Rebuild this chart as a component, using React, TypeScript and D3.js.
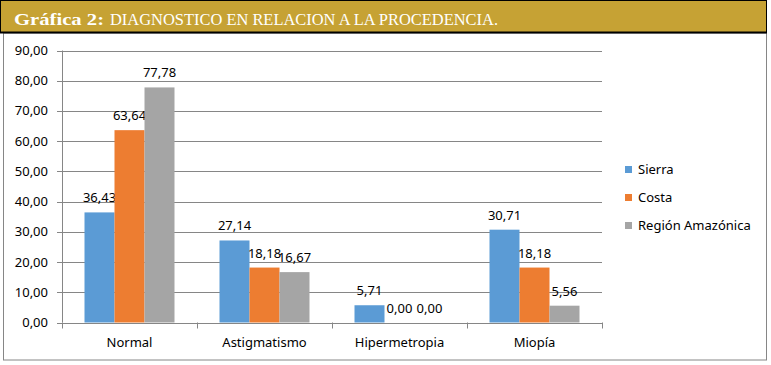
import * as d3 from 'd3'

// * Chart data
const categories = ['Normal', 'Astigmatismo', 'Hipermetropia', 'Miopía']
const seriesNames = ['Sierra', 'Costa', 'Región Amazónica']
const sierra = [36.43, 27.14, 5.71, 30.71]
const costa = [63.64, 18.18, 0.0, 18.18]
const amazonica = [77.78, 16.67, 0.0, 5.56]
const yTicks = [0, 10, 20, 30, 40, 50, 60, 70, 80, 90]
const colors = ['#5B9BD5', '#ED7D31', '#A5A5A5']

const W = 771
const H = 365
const font = '"Noto Sans", sans-serif'

export default function App() {
  const series = [sierra, costa, amazonica]

  const margin = { left: 62, right: 602, top: 50.5, bottom: 322.5 }

  const x0 = d3.scaleBand<string>().domain(categories).range([margin.left, margin.right]).padding(0)
  const groupPad = x0.bandwidth() / 6
  const x1 = d3
    .scaleBand<string>()
    .domain(seriesNames)
    .range([groupPad, x0.bandwidth() - groupPad])
    .padding(0)
  const y = d3.scaleLinear().domain([0, 90]).range([margin.bottom, margin.top])

  const fmt = (v: number) => v.toFixed(2).replace('.', ',')

  return (
    <div style={{ position: 'absolute', left: 0, top: 0 }}>
      <svg width={W} height={H} style={{ display: 'block', background: '#fff' }}>
        {/* outer frame */}
        <rect x={3.5} y={33} width={763} height={327} fill="#fff" stroke="#868686" strokeWidth={1} />

        {/* title bar */}
        <rect x={0.5} y={0.5} width={766} height={32} fill="#C6A234" stroke="#000" strokeWidth={1} />
        <line x1={0} x2={767} y1={32.5} y2={32.5} stroke="#000" strokeWidth={2} />
        <text y={25} fill="#fff" fontFamily='"Liberation Serif", serif' fontSize={17}>
          <tspan x={14} fontWeight="bold" textLength={90} lengthAdjust="spacingAndGlyphs">Gráfica 2:</tspan>
          <tspan x={110} textLength={388} lengthAdjust="spacingAndGlyphs">
            DIAGNOSTICO EN RELACION A LA PROCEDENCIA.
          </tspan>
        </text>

        {/* gridlines + y axis */}
        {yTicks.map((t) => (
          <g key={t}>
            <line x1={margin.left - 5} x2={t === 0 ? margin.left : margin.right} y1={Math.round(y(t)) + 0.5} y2={Math.round(y(t)) + 0.5} stroke="#868686" />
            <text x={48} y={y(t) + 4.5} textAnchor="end" fontFamily={font} fontSize={13} fill="#000">
              {fmt(t)}
            </text>
          </g>
        ))}
        <line x1={margin.left + 0.5} x2={margin.left + 0.5} y1={margin.top} y2={margin.bottom} stroke="#868686" />

        {/* bars */}
        {categories.map((c, i) => (
          <g key={c} transform={`translate(${x0(c)},0)`}>
            {seriesNames.map((s, j) => {
              const v = series[j][i]
              return (
                <g key={s}>
                  {v > 0 && (
                    <rect
                      x={x1(s)}
                      y={y(v)}
                      width={x1.bandwidth()}
                      height={y(0) - y(v)}
                      fill={colors[j]}
                    />
                  )}
                  <text
                    x={x1(s)! + x1.bandwidth() / 2}
                    y={y(v) - 10}
                    textAnchor="middle"
                    fontFamily={font}
                    fontSize={13}
                    fill="#000"
                  >
                    {fmt(v)}
                  </text>
                </g>
              )
            })}
          </g>
        ))}

        {/* x axis */}
        <line x1={margin.left} x2={margin.right} y1={Math.round(y(0)) + 0.5} y2={Math.round(y(0)) + 0.5} stroke="#868686" />
        {[...categories.map((c) => x0(c)!), margin.right].map((px, i) => (
          <line key={i} x1={Math.round(px) + 0.5} x2={Math.round(px) + 0.5} y1={y(0)} y2={y(0) + 6} stroke="#868686" />
        ))}
        {categories.map((c) => (
          <text key={c} x={x0(c)! + x0.bandwidth() / 2} y={347} textAnchor="middle" fontFamily={font} fontSize={13} fill="#000">
            {c}
          </text>
        ))}

        {/* legend */}
        {seriesNames.map((s, j) => (
          <g key={s} transform={`translate(625,${166 + j * 28})`}>
            <rect x={0} y={0} width={7} height={7} fill={colors[j]} />
            <text x={13} y={8} fontFamily={font} fontSize={13} fill="#000">
              {s}
            </text>
          </g>
        ))}
      </svg>
    </div>
  )
}
